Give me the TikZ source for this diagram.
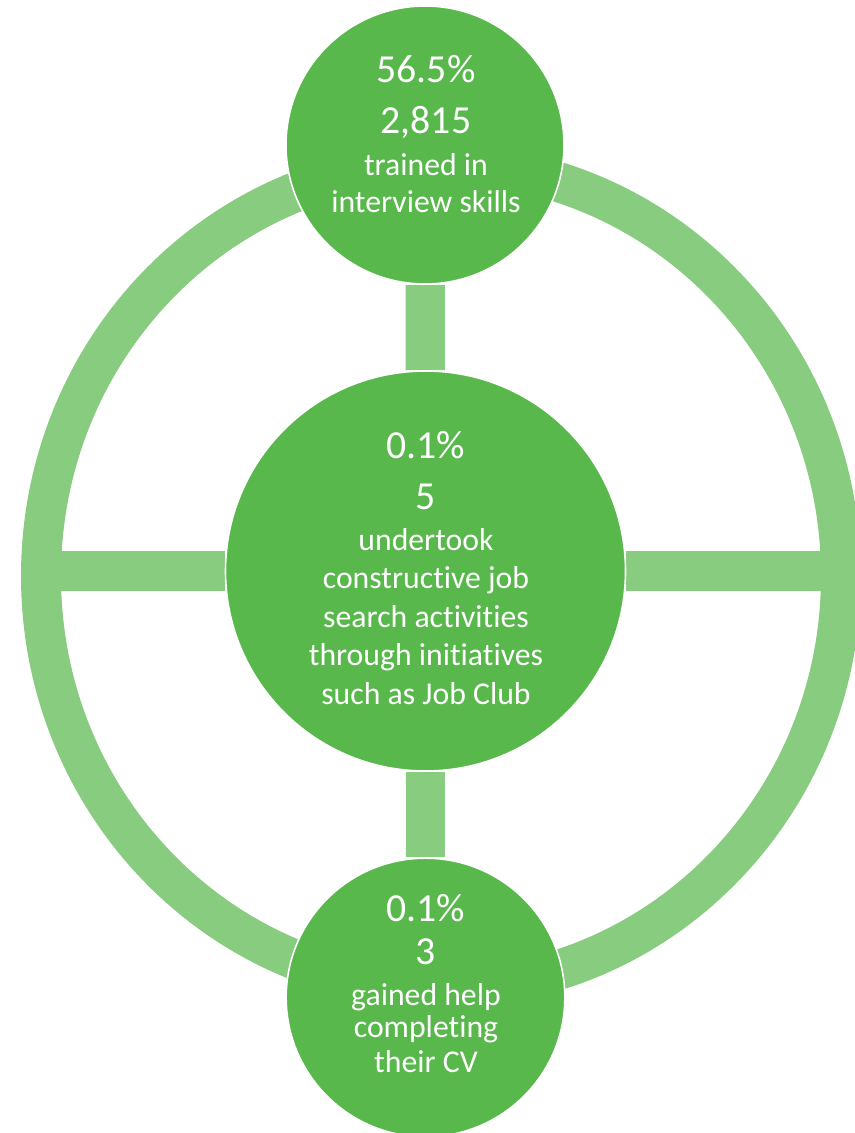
\documentclass[tikz,border=0pt]{standalone}
\usepackage{fontspec}
\setmainfont{Carlito}[RawFeature={-liga}]
\usetikzlibrary{backgrounds}
\definecolor{discgreen}{RGB}{88,184,75}
\definecolor{ringgreen}{RGB}{136,204,128}

\begin{document}
\begin{tikzpicture}[x=0.75pt,y=-0.75pt,
  disc/.style={circle,fill=discgreen,draw=white,line width=1.2pt,inner sep=0pt},
  link/.style={draw=ringgreen,line width=29.5pt},
  big/.style={text=white,anchor=base,font=\fontsize{29.8}{35}\selectfont},
  small/.style={text=white,anchor=base,font=\fontsize{23.8}{28}\selectfont}]
  \useasboundingbox (0,0) rectangle (855,1133);
  % circles
  \node[disc,minimum size=208.5pt] (top) at (425,145) {};
  \node[disc,minimum size=300pt] (hub) at (425.5,571) {};
  \node[disc,minimum size=209pt] (cv) at (425.5,997.5) {};
  % ring and spokes behind the circles
  \begin{scope}[on background layer]
    \coordinate (ringc) at (441,576);
    \coordinate (ringW) at (41,571);
    \coordinate (ringE) at (841,571);
    \draw[ringgreen,line width=30pt] (ringc) ellipse [x radius=300pt,y radius=309pt];
    \draw[link] (ringW) -- (hub);
    \draw[link] (hub) -- (ringE);
    \draw[link] (top) -- (hub);
    \draw[link] (hub) -- (cv);
  \end{scope}
  % top circle
  \node[big] (top-pct) at (426,82) {56.5\%};
  \node[big] (top-num) at (426,133) {2,815};
  \foreach \txt/\y [count=\i] in {trained in/175, interview skills/212}
    \node[small] (top-\i) at (426,\y) {\txt};
  % hub
  \node[big] (hub-pct) at (426,458) {0.1\%};
  \node[big] (hub-num) at (426,509) {5};
  \foreach \txt/\y [count=\i] in {undertook/550, constructive job/588,
      search activities/627, through initiatives/665, such as Job Club/704}
    \node[small] (hub-\i) at (426,\y) {\txt};
  % bottom circle
  \node[big] (cv-pct) at (426,921) {0.1\%};
  \node[big] (cv-num) at (426,964) {3};
  \foreach \txt/\y [count=\i] in {gained help/1005, completing/1037, their CV/1072}
    \node[small] (cv-\i) at (426,\y) {\txt};
\end{tikzpicture}
\end{document}
